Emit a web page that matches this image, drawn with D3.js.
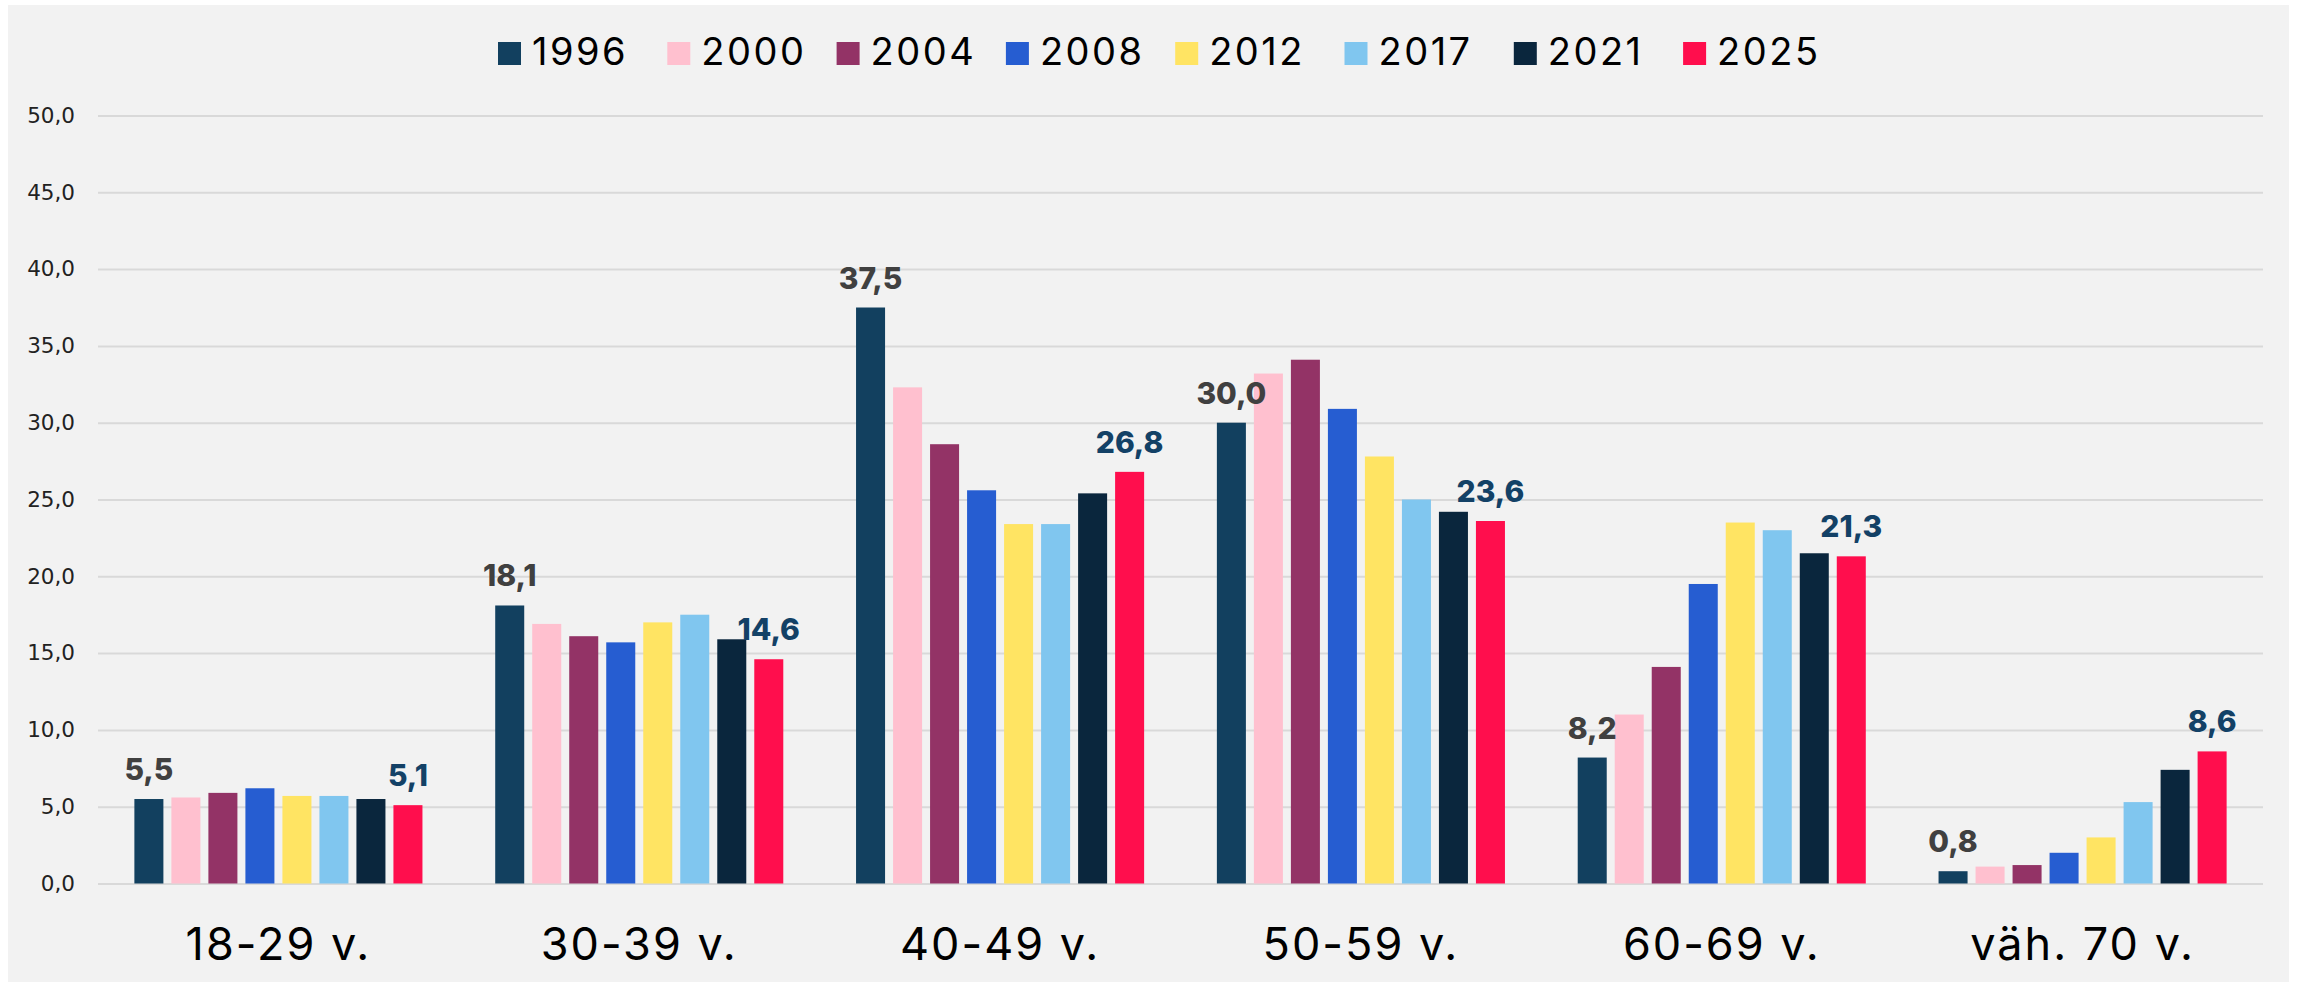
<!DOCTYPE html>
<html>
<head>
<meta charset="utf-8">
<script src="https://cdn.jsdelivr.net/npm/d3@7"></script>
<style>
  html, body { margin: 0; padding: 0; background: #ffffff; }
  svg { display: block; }
</style>
</head>
<body>
<div id="graph"></div>
<script>
WIDTH = 2297;
HEIGHT = 982;

// data
var ageGroups = ["18-29 v.", "30-39 v.", "40-49 v.", "50-59 v.", "60-69 v.", "väh. 70 v."];
var years = ["1996", "2000", "2004", "2008", "2012", "2017", "2021", "2025"];
var colors = ["#12405f", "#ffc0cf", "#933366", "#265dd1", "#ffe463", "#80c6ef", "#0a263d", "#ff0e4d"];

// one array per year, values per age group
var v1996 = [5.5, 18.1, 37.5, 30.0, 8.2, 0.8];
var v2000 = [5.6, 16.9, 32.3, 33.2, 11.0, 1.1];
var v2004 = [5.9, 16.1, 28.6, 34.1, 14.1, 1.2];
var v2008 = [6.2, 15.7, 25.6, 30.9, 19.5, 2.0];
var v2012 = [5.7, 17.0, 23.4, 27.8, 23.5, 3.0];
var v2017 = [5.7, 17.5, 23.4, 25.0, 23.0, 5.3];
var v2021 = [5.5, 15.9, 25.4, 24.2, 21.5, 7.4];
var v2025 = [5.1, 14.6, 26.8, 23.6, 21.3, 8.6];
var series = [v1996, v2000, v2004, v2008, v2012, v2017, v2021, v2025];

var yTicks = [0, 5, 10, 15, 20, 25, 30, 35, 40, 45, 50];

var fi = d3.formatLocale({decimal: ",", thousands: " ", grouping: [3], currency: ["", " €"]});
var fmt = fi.format(".1f");

var svg = d3.select("#graph").append("svg:svg").attr("width", WIDTH).attr("height", HEIGHT);

// panel background
svg.append("rect")
  .attr("x", 8).attr("y", 5)
  .attr("width", WIDTH - 16).attr("height", HEIGHT - 5)
  .attr("fill", "#f2f2f2");

var left = 98, right = 2263;
var x0 = d3.scaleBand().domain(ageGroups).range([left, right]);
var x1 = d3.scaleBand().domain(years).range([0, x0.bandwidth()])
  .paddingInner(0.216).paddingOuter(0.983);
var y = d3.scaleLinear().domain([0, 50]).range([883.5, 115.5]);

// grid + y labels
var yAxis = d3.axisLeft(y)
  .tickValues(yTicks)
  .tickSize(-(right - left))
  .tickPadding(23)
  .tickFormat(fmt);

var ag = svg.append("g")
  .attr("transform", "translate(" + left + ",0)")
  .call(yAxis);
ag.select(".domain").remove();
ag.selectAll(".tick line").attr("stroke", "#d9d9d9").attr("stroke-width", 2);
ag.selectAll(".tick text")
  .attr("fill", "#222")
  .style("font-family", "'DejaVu Sans', sans-serif")
  .style("font-size", "21.5px");

// bars
var barg = svg.append("g");
var groups = barg.selectAll("g.grp")
  .data(ageGroups)
  .enter().append("g")
  .attr("class", "grp")
  .attr("transform", function(d) { return "translate(" + x0(d) + ",0)"; });

groups.selectAll("rect")
  .data(function(d, gi) {
    return years.map(function(yr, si) { return {year: yr, si: si, value: series[si][gi]}; });
  })
  .enter().append("rect")
  .attr("x", function(d) { return x1(d.year); })
  .attr("width", x1.bandwidth())
  .attr("y", function(d) { return y(d.value); })
  .attr("height", function(d) { return y(0) - y(d.value); })
  .attr("fill", function(d) { return colors[d.si]; });

// value labels: first and last year only
groups.selectAll("text.val")
  .data(function(d, gi) {
    return [0, years.length - 1].map(function(si) { return {year: years[si], si: si, value: series[si][gi]}; });
  })
  .enter().append("text")
  .attr("class", "val")
  .attr("x", function(d) { return x1(d.year) + x1.bandwidth() / 2; })
  .attr("y", function(d) { return y(d.value) - 19; })
  .attr("text-anchor", "middle")
  .attr("fill", function(d) { return d.si === 0 ? "#404040" : "#134166"; })
  .style("font-family", "Inter, sans-serif")
  .style("font-weight", "800")
  .style("font-size", "30px")
  .text(function(d) { return fmt(d.value); });

// category labels
svg.append("g").selectAll("text")
  .data(ageGroups)
  .enter().append("text")
  .attr("x", function(d) { return x0(d) + x0.bandwidth() / 2; })
  .attr("y", 960)
  .attr("text-anchor", "middle")
  .attr("fill", "#000")
  .style("font-family", "Inter, sans-serif")
  .style("font-size", "45px")
  .style("letter-spacing", "2px")
  .text(function(d) { return d; });

// legend
var lx = d3.scaleBand().domain(years).range([498, 498 + 8 * 169.3]);
var leg = svg.append("g").selectAll("g")
  .data(years)
  .enter().append("g")
  .attr("transform", function(d) { return "translate(" + lx(d) + ",0)"; });
leg.append("rect")
  .attr("x", 0).attr("y", 42)
  .attr("width", 23).attr("height", 23)
  .attr("fill", function(d, i) { return colors[i]; });
leg.append("text")
  .attr("x", 34).attr("y", 65)
  .attr("fill", "#000")
  .style("font-family", "Inter, sans-serif")
  .style("font-size", "38px")
  .style("letter-spacing", "2.5px")
  .text(function(d) { return d; });
</script>
</body>
</html>
